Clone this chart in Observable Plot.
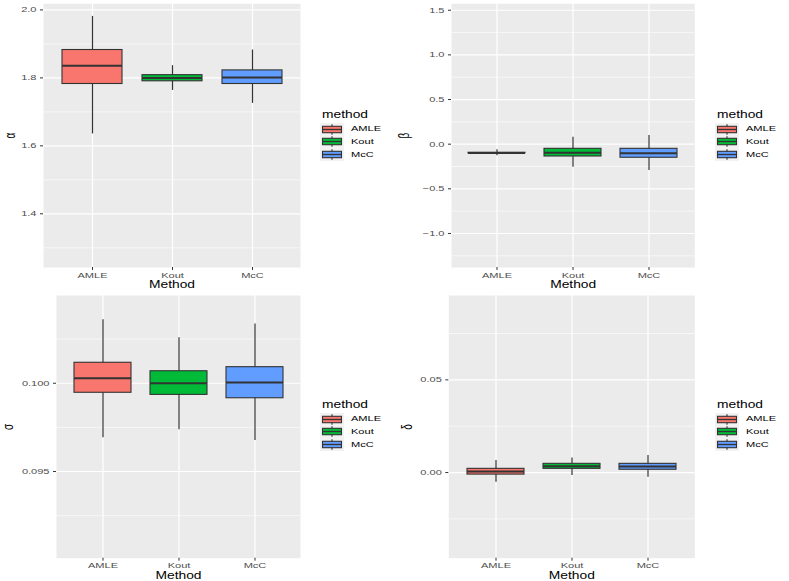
<!DOCTYPE html>
<html>
<head>
<meta charset="utf-8">
<script src="https://cdn.jsdelivr.net/npm/d3@7"></script>
<script src="https://cdn.jsdelivr.net/npm/@observablehq/plot@0.6"></script>
<style>
  html, body { margin: 0; padding: 0; background: #fff; }
  #root { position: relative; width: 789px; height: 581px; overflow: hidden; font-family: "Liberation Sans", Arial, sans-serif; }
  .pane { position: absolute; }
  .lg-title { position: absolute; font-size: 10px; line-height: 10px; color: #000; transform: scaleX(1.38); transform-origin: 0 50%; white-space: nowrap; }
  .lg-label { position: absolute; font-size: 8px; line-height: 8px; color: #000; transform: scaleX(1.38); transform-origin: 0 50%; white-space: nowrap; }
  .lg-key { position: absolute; }
</style>
</head>
<body>
<div id="root"></div>
<script>
// ---- data ----
const methods = ["AMLE", "Kout", "McC"];
const colors = ["#F8766D", "#00BA38", "#619CFF"];

const alphaLo  = [1.635, 1.763, 1.725];
const alphaQ1  = [1.782, 1.790, 1.782];
const alphaMed = [1.836, 1.800, 1.801];
const alphaQ3  = [1.882, 1.808, 1.822];
const alphaHi  = [1.981, 1.836, 1.882];
const alphaTicks = [1.4, 1.6, 1.8, 2.0];
const alphaMinor = [1.3, 1.5, 1.7, 1.9];

const betaLo  = [-0.130, -0.258, -0.295];
const betaQ1  = [-0.102, -0.138, -0.152];
const betaMed = [-0.099, -0.096, -0.101];
const betaQ3  = [-0.096, -0.052, -0.052];
const betaHi  = [-0.063, 0.078, 0.098];
const betaTicks = [-1.0, -0.5, 0.0, 0.5, 1.0, 1.5];
const betaMinor = [-1.25, -0.75, -0.25, 0.25, 0.75, 1.25];

const sigmaLo  = [0.09691, 0.09736, 0.09676];
const sigmaQ1  = [0.09946, 0.09934, 0.09915];
const sigmaMed = [0.10028, 0.10000, 0.10004];
const sigmaQ3  = [0.10116, 0.10068, 0.10091];
const sigmaHi  = [0.10359, 0.10257, 0.10336];
const sigmaTicks = [0.095, 0.100];
const sigmaMinor = [0.0925, 0.0975, 0.1025];

const deltaLo  = [-0.0052, -0.0016, -0.0025];
const deltaQ1  = [-0.0011, 0.0020, 0.0015];
const deltaMed = [0.0005, 0.0034, 0.0032];
const deltaQ3  = [0.0020, 0.0047, 0.0047];
const deltaHi  = [0.0065, 0.0079, 0.0092];
const deltaTicks = [0.00, 0.05];
const deltaMinor = [-0.025, 0.025, 0.075];

const xTitle = "Method";
const legendTitle = "method";

// ---- helpers ----
function rows(lo, q1, med, q3, hi) {
  return methods.map((m, i) => ({method: m, lo: lo[i], q1: q1[i], med: med[i], q3: q3[i], hi: hi[i]}));
}

const STRETCH = 1.38;

function stretchText(svg) {
  svg.querySelectorAll("text").forEach(t => {
    const tr = t.getAttribute("transform") || "";
    if (tr.includes("rotate")) {
      t.setAttribute("transform", tr + ` scale(1,${STRETCH})`);
    } else {
      const x = parseFloat(t.getAttribute("x") || "0") || 0;
      t.setAttribute("x", "0");
      t.setAttribute("transform", tr + ` translate(${x},0) scale(${STRETCH},1)`);
    }
  });
}

function panel(cfg) {
  const data = rows(...cfg.stats);
  const svg = Plot.plot({
    width: cfg.w, height: cfg.h,
    marginLeft: cfg.ml, marginRight: cfg.mr, marginTop: cfg.mt, marginBottom: cfg.mb,
    style: {fontFamily: "'Liberation Sans', Arial, sans-serif", background: "transparent", overflow: "visible"},
    x: {domain: methods, paddingInner: 0.25, paddingOuter: 0.225, label: null},
    y: {domain: cfg.domain, label: null},
    color: {domain: methods, range: colors},
    marks: [
      Plot.frame({fill: "#EBEBEB", stroke: null}),
      Plot.ruleY(cfg.minor, {stroke: "#FFFFFF", strokeWidth: 0.6}),
      Plot.ruleY(cfg.ticks, {stroke: "#FFFFFF", strokeWidth: 1.2}),
      Plot.ruleX(methods, {x: d => d, stroke: "#FFFFFF", strokeWidth: 1.2}),
      Plot.ruleX(data, {x: "method", y1: "lo", y2: "hi", stroke: "#333333", strokeWidth: 1.2}),
      Plot.barY(data, {x: "method", y1: "q1", y2: "q3", fill: "method", stroke: "#333333", strokeWidth: 1.1}),
      Plot.tickY(data, {x: "method", y: "med", stroke: "#333333", strokeWidth: 2}),
      Plot.axisX({tickSize: 3, tickPadding: 1.5, stroke: "#333333", fill: "#4D4D4D", fontSize: 8,
                  label: xTitle, labelAnchor: "center", labelArrow: "none", labelOffset: cfg.xlo}),
      Plot.axisY(cfg.ticks, {tickFormat: cfg.fmt, tickSize: 3, tickPadding: 4, stroke: "#333333", fill: "#4D4D4D", fontSize: 8,
                  label: cfg.label, labelAnchor: "center", labelArrow: "none", labelOffset: cfg.ylo})
    ]
  });
  // axis titles: larger, black
  svg.querySelectorAll('g[aria-label="x-axis label"], g[aria-label="y-axis label"]').forEach(g => {
    g.setAttribute("font-size", "10");
    g.setAttribute("fill", "#000000");
    g.querySelectorAll("text").forEach(t => { t.setAttribute("font-size", "10"); t.setAttribute("fill", "#000000"); });
  });
  stretchText(svg);
  const wrap = document.createElement("div");
  wrap.className = "pane";
  wrap.style.left = cfg.left + "px";
  wrap.style.top = cfg.top + "px";
  wrap.appendChild(svg);
  document.getElementById("root").appendChild(wrap);

  // legend (HTML)
  const root = document.getElementById("root");
  const title = document.createElement("div");
  title.className = "lg-title";
  title.textContent = legendTitle;
  title.style.left = cfg.lgX + "px";
  title.style.top = (cfg.lgY - 8.5) + "px";
  root.appendChild(title);
  methods.forEach((m, i) => {
    const cy = cfg.lgY + 11 + i * 12.9;
    const ns = "http://www.w3.org/2000/svg";
    const k = document.createElementNS(ns, "svg");
    k.setAttribute("width", 24); k.setAttribute("height", 13);
    k.setAttribute("class", "lg-key");
    k.style.left = (cfg.lgX - 2) + "px";
    k.style.top = (cy - 6.5) + "px";
    const bg = document.createElementNS(ns, "rect");
    bg.setAttribute("x", 0); bg.setAttribute("y", 0); bg.setAttribute("width", 24); bg.setAttribute("height", 13);
    bg.setAttribute("fill", "#F2F2F2");
    k.appendChild(bg);
    const wh = document.createElementNS(ns, "line");
    wh.setAttribute("x1", 12); wh.setAttribute("x2", 12); wh.setAttribute("y1", 1.3); wh.setAttribute("y2", 11.7);
    wh.setAttribute("stroke", "#333333"); wh.setAttribute("stroke-width", 1.1);
    k.appendChild(wh);
    const bx = document.createElementNS(ns, "rect");
    bx.setAttribute("x", 2.5); bx.setAttribute("y", 3.3); bx.setAttribute("width", 19); bx.setAttribute("height", 6.4);
    bx.setAttribute("fill", colors[i]); bx.setAttribute("stroke", "#333333"); bx.setAttribute("stroke-width", 1.1);
    k.appendChild(bx);
    const md = document.createElementNS(ns, "line");
    md.setAttribute("x1", 2.5); md.setAttribute("x2", 21.5); md.setAttribute("y1", 6.5); md.setAttribute("y2", 6.5);
    md.setAttribute("stroke", "#333333"); md.setAttribute("stroke-width", 1.3);
    k.appendChild(md);
    root.appendChild(k);
    const lab = document.createElement("div");
    lab.className = "lg-label";
    lab.textContent = m;
    lab.style.left = (cfg.lgX + 29) + "px";
    lab.style.top = (cy + 2.8 - 6.8) + "px";
    root.appendChild(lab);
  });
}

const f1 = d3.format(".1f"), f3 = d3.format(".3f"), f2 = d3.format(".2f");

panel({left: 0, top: 0, w: 395, h: 290, ml: 43, mr: 95, mt: 3.3, mb: 23,
       stats: [alphaLo, alphaQ1, alphaMed, alphaQ3, alphaHi], ticks: alphaTicks, minor: alphaMinor,
       domain: [1.242, 2.018], fmt: f1, label: "α", ylo: 38, lgX: 322, lgY: 118});
panel({left: 395, top: 0, w: 394, h: 290, ml: 56, mr: 94.7, mt: 3.3, mb: 23,
       stats: [betaLo, betaQ1, betaMed, betaQ3, betaHi], ticks: betaTicks, minor: betaMinor,
       domain: [-1.381, 1.572], fmt: f1, label: "β", ylo: 52, lgX: 717, lgY: 118});
panel({left: 0, top: 292, w: 395, h: 289, ml: 56, mr: 95, mt: 3, mb: 23.3,
       stats: [sigmaLo, sigmaQ1, sigmaMed, sigmaQ3, sigmaHi], ticks: sigmaTicks, minor: sigmaMinor,
       domain: [0.09009, 0.10497], fmt: f3, label: "σ", ylo: 53, lgX: 322, lgY: 408});
panel({left: 395, top: 292, w: 394, h: 289, ml: 53.3, mr: 94.7, mt: 3, mb: 23.3,
       stats: [deltaLo, deltaQ1, deltaMed, deltaQ3, deltaHi], ticks: deltaTicks, minor: deltaMinor,
       domain: [-0.0462, 0.0955], fmt: f2, label: "δ", ylo: 47, lgX: 717, lgY: 408});
</script>
</body>
</html>
